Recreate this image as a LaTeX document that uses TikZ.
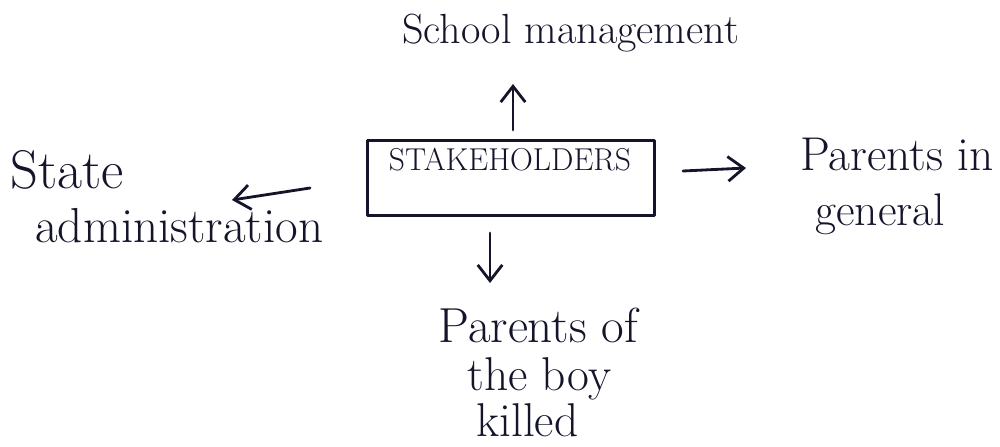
\documentclass[tikz,border=0pt]{standalone}
\usetikzlibrary{arrows.meta}
\definecolor{ink}{HTML}{14142A}
\begin{document}
\begin{tikzpicture}[x=0.02cm,y=-0.02cm,
  ink line/.style={draw=ink,line width=1.6pt,line cap=round,line join=round},
  arr/.style={ink line,-{Straight Barb[length=9pt,width=14pt,line width=1.6pt]}},
  lbl/.style={text=ink,inner sep=0pt,anchor=base west},
  fs/.style={font=\fontsize{#1}{#1}\selectfont},
  boxlbl/.style={text=ink,font=\fontsize{18}{20}\selectfont,inner sep=0pt}]
\useasboundingbox (0,0) rectangle (1000,446);
% central box
\node[ink line,rectangle,minimum width=287*0.02cm,minimum height=75*0.02cm,inner sep=0pt] (box) at (511,178) {};
\node[boxlbl] (st) at (510,160) {STAKEHOLDERS};
% labels
\node[lbl,fs=24] (school) at (402,44) {School management};
\node[lbl,fs=27] (pg1) at (800,170) {Parents in};
\node[lbl,fs=26] (pg2) at (815,225) {general};
\node[lbl,fs=31] (sa1) at (10,188) {State};
\node[lbl,fs=28] (sa2) at (35,242) {administration};
\node[lbl,fs=28] (pb1) at (438,342) {Parents of};
\node[lbl,fs=27] (pb2) at (467,390) {the boy};
\node[lbl,fs=27] (pb3) at (476,436) {killed};
% arrow end points
\coordinate (upS) at (513,130);
\coordinate (upE) at (513,84);
\coordinate (rS) at (683,171);
\coordinate (rE) at (746,168);
\coordinate (lS) at (310,188);
\coordinate (lE) at (232,200);
\coordinate (dS) at (490,233);
\coordinate (dE) at (490,283);
\draw[arr] (upS) -- (upE);
\draw[arr] (rS) -- (rE);
\draw[arr] (lS) -- (lE);
\draw[arr] (dS) -- (dE);
\end{tikzpicture}
\end{document}
